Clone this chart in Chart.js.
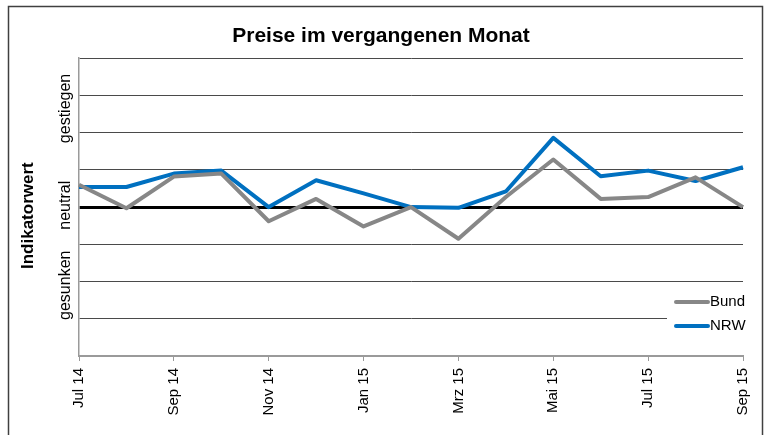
<!DOCTYPE html>
<html>
<head>
<meta charset="utf-8">
<script src="https://cdn.jsdelivr.net/npm/chart.js@4.4.1/dist/chart.umd.min.js"></script>
<style>
    html, body { margin: 0; padding: 0; background: #fff; }
    #chart-box { width: 768px; height: 435px; }
</style>
</head>
<body>
<div id="chart-box"><canvas id="prices-canvas"></canvas></div>
<script>
const chartTitle = "Preise im vergangenen Monat";
const axisTitle = "Indikatorwert";

const months = ["Jul 14", "Aug 14", "Sep 14", "Okt 14", "Nov 14", "Dez 14", "Jan 15", "Feb 15",
    "Mrz 15", "Apr 15", "Mai 15", "Jun 15", "Jul 15", "Aug 15", "Sep 15"];

const bund = [0.6, -0.03, 0.82, 0.9, -0.38, 0.22, -0.52, 0, -0.85, 0.27, 1.28, 0.22, 0.27, 0.8, 0];
const nrw = [0.54, 0.54, 0.9, 0.98, 0, 0.72, 0.37, 0, -0.02, 0.42, 1.86, 0.83, 0.98, 0.7, 1.07];

const sideLabels = ["gestiegen", "neutral", "gesunken"];

const FONT = "'Liberation Sans', Arial, sans-serif";
Chart.defaults.font.family = FONT;
Chart.defaults.color = "#000";

function rotatedText(c, text, x, y) {
    c.save();
    c.translate(x, y);
    c.rotate(-Math.PI / 2);
    c.fillText(text, 0, 0);
    c.restore();
}

// white page + the thin frame round the whole chart
const framePlugin = {
    id: "frame",
    beforeDraw(chart) {
        const c = chart.ctx;
        c.save();
        c.fillStyle = "#fff";
        c.fillRect(0, 0, chart.width, chart.height);
        c.strokeStyle = "#404040";
        c.lineWidth = 1.5;
        c.strokeRect(8.5, 6.5, 754, 440);
        c.restore();
    }
};

// y axis title and the three rotated words next to the axis
const sidePlugin = {
    id: "side",
    afterDraw(chart, args, opts) {
        const c = chart.ctx;
        const y = chart.scales.y;
        c.save();
        c.fillStyle = "#000";
        c.textAlign = "center";
        c.textBaseline = "alphabetic";
        c.font = "bold 17px " + FONT;
        rotatedText(c, axisTitle, opts.titleX, y.getPixelForValue(opts.titleAt));
        c.font = "16px " + FONT;
        sideLabels.forEach((t, i) => rotatedText(c, t, opts.labelX, y.getPixelForValue(opts.labelAt[i])));
        c.restore();
    }
};

// small legend sitting inside the plot, bottom right
const legendPlugin = {
    id: "boxLegend",
    afterDraw(chart, args, opts) {
        const c = chart.ctx;
        const area = chart.chartArea;
        const x0 = area.right - 76;
        const y0 = area.bottom - 67;
        c.save();
        c.fillStyle = "#fff";
        c.fillRect(x0, y0, 82, 62);
        c.font = "15px " + FONT;
        c.textBaseline = "middle";
        c.textAlign = "left";
        chart.data.datasets.forEach((ds, i) => {
            const ly = y0 + 13 + i * 24;
            c.strokeStyle = ds.borderColor;
            c.lineWidth = 4;
            c.lineCap = "round";
            c.beginPath();
            c.moveTo(x0 + 9, ly);
            c.lineTo(x0 + 41, ly);
            c.stroke();
            c.fillStyle = "#000";
            c.fillText(ds.label, x0 + 43, ly);
        });
        c.restore();
    }
};

new Chart(document.getElementById("prices-canvas"), {
    type: "line",
    data: {
        labels: months,
        datasets: [{
            label: "Bund",
            data: bund,
            borderColor: "#878787",
            borderWidth: 4,
            pointRadius: 0,
            borderJoinStyle: "round",
            tension: 0
        }, {
            label: "NRW",
            data: nrw,
            borderColor: "#0070C0",
            borderWidth: 4,
            pointRadius: 0,
            borderJoinStyle: "round",
            tension: 0
        }]
    },
    options: {
        responsive: true,
        maintainAspectRatio: false,
        animation: false,
        layout: {
            padding: { left: 17, right: 23, top: 0, bottom: 0 }
        },
        scales: {
            x: {
                afterFit: (s) => { s.height = 79; },
                grid: {
                    drawOnChartArea: false,
                    drawTicks: true,
                    tickLength: 5,
                    tickColor: (ctx) => ctx.index % 2 === 0 ? "#999" : "rgba(0,0,0,0)"
                },
                border: { color: "#9a9a9a", width: 2 },
                ticks: {
                    autoSkip: false,
                    minRotation: 90,
                    maxRotation: 90,
                    padding: 7,
                    font: { size: 15 },
                    color: "#000",
                    callback: (v, i) => i % 2 === 0 ? months[i] : ""
                }
            },
            y: {
                min: -4,
                max: 4,
                afterFit: (s) => { s.width = 62; },
                ticks: { display: false, stepSize: 1 },
                grid: {
                    drawTicks: false,
                    color: (ctx) => ctx.tick && ctx.tick.value === 0 ? "#000" : "#4a4a4a",
                    lineWidth: (ctx) => ctx.tick && ctx.tick.value === 0 ? 3 : 1
                },
                border: { color: "#9a9a9a", width: 1.5 }
            }
        },
        plugins: {
            legend: { display: false },
            tooltip: { enabled: false },
            title: {
                display: true,
                text: chartTitle,
                font: { size: 21, weight: "bold" },
                color: "#000",
                padding: { top: 24, bottom: 9 }
            },
            side: {
                titleX: 33,
                titleAt: -0.23,
                labelX: 70,
                labelAt: [2.65, 0.05, -2.1]
            }
        }
    },
    plugins: [framePlugin, sidePlugin, legendPlugin]
});
</script>
</body>
</html>
